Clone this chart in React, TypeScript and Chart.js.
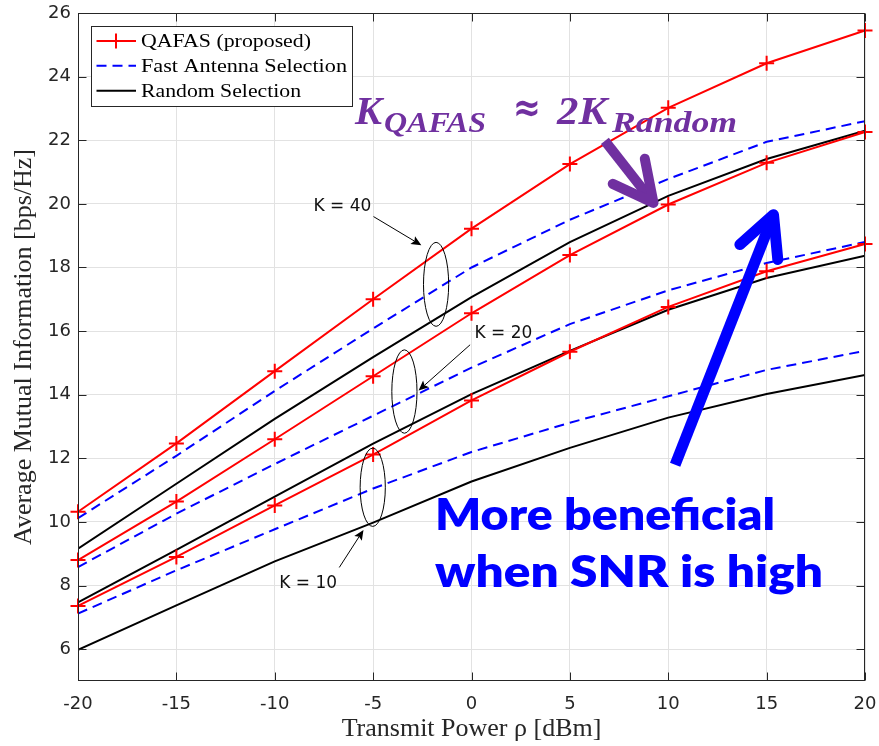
import React, { useEffect, useRef } from 'react';
import { Chart, registerables } from 'chart.js';

Chart.register(...registerables);

// ---------- data ----------
const powerDbm = [-20, -15, -10, -5, 0, 5, 10, 15, 20];

const qafasK40 = [10.32, 12.47, 14.74, 17.0, 19.22, 21.25, 23.02, 24.42, 25.45];
const fastK40 = [10.12, 12.08, 14.12, 16.08, 18.0, 19.5, 20.78, 21.95, 22.6];
const randomK40 = [9.16, 11.2, 13.24, 15.18, 17.07, 18.8, 20.25, 21.41, 22.3];

const qafasK20 = [8.8, 10.64, 12.6, 14.58, 16.56, 18.39, 19.98, 21.29, 22.26];
const fastK20 = [8.58, 10.26, 11.82, 13.34, 14.85, 16.22, 17.28, 18.14, 18.8];
const randomK20 = [7.47, 9.12, 10.8, 12.46, 14.02, 15.38, 16.67, 17.67, 18.37];

const qafasK10 = [7.36, 8.9, 10.52, 12.12, 13.82, 15.35, 16.76, 17.88, 18.74];
const fastK10 = [7.12, 8.48, 9.77, 11.05, 12.2, 13.12, 13.95, 14.78, 15.38];
const randomK10 = [5.98, 7.38, 8.76, 9.98, 11.27, 12.33, 13.28, 14.02, 14.62];

const xTicks = [-20, -15, -10, -5, 0, 5, 10, 15, 20];
const yTicks = [6, 8, 10, 12, 14, 16, 18, 20, 22, 24, 26];

const legendLabels = ['QAFAS (proposed)', 'Fast Antenna Selection', 'Random Selection'];
const groupLabels = ['K = 40', 'K = 20', 'K = 10'];
const formulaParts = ['K', 'QAFAS', '\u2248', '2K', 'Random'];
const noteLines = ['More beneficial', 'when SNR is high'];

const xTitle = 'Transmit Power \u03C1 [dBm]';
const yTitle = 'Average Mutual Information [bps/Hz]';

// ---------- styles ----------
const RED = '#ff0000';
const BLUE = '#0000ff';
const BLACK = '#000000';
const PURPLE = '#7030a0';
const AXIS = '#262626';
const GRID = '#e2e2e2';

const toPts = (ys: number[]) => powerDbm.map((x, i) => ({ x, y: ys[i] }));

function fitText(ctx: CanvasRenderingContext2D, text: string, x: number, y: number, font: string, width: number, color: string) {
  ctx.save();
  ctx.font = font;
  const w = ctx.measureText(text).width;
  const s = width / w;
  ctx.translate(x, y);
  ctx.scale(s, 1);
  ctx.fillStyle = color;
  ctx.textAlign = 'left';
  ctx.textBaseline = 'alphabetic';
  ctx.fillText(text, 0, 0);
  ctx.restore();
}

function smallArrow(ctx: CanvasRenderingContext2D, x0: number, y0: number, x1: number, y1: number) {
  const a = Math.atan2(y1 - y0, x1 - x0);
  const L = 11;
  const back = 8;
  const spread = 0.42;
  ctx.save();
  ctx.strokeStyle = BLACK;
  ctx.fillStyle = BLACK;
  ctx.lineWidth = 1;
  ctx.beginPath();
  ctx.moveTo(x0, y0);
  ctx.lineTo(x1 - back * Math.cos(a), y1 - back * Math.sin(a));
  ctx.stroke();
  ctx.beginPath();
  ctx.moveTo(x1, y1);
  ctx.lineTo(x1 - L * Math.cos(a - spread), y1 - L * Math.sin(a - spread));
  ctx.lineTo(x1 - back * Math.cos(a), y1 - back * Math.sin(a));
  ctx.lineTo(x1 - L * Math.cos(a + spread), y1 - L * Math.sin(a + spread));
  ctx.closePath();
  ctx.fill();
  ctx.restore();
}

function bigArrow(ctx: CanvasRenderingContext2D, x0: number, y0: number, x1: number, y1: number, color: string, lw: number, head: number) {
  const a = Math.atan2(y1 - y0, x1 - x0);
  const spread = 0.47;
  ctx.save();
  ctx.strokeStyle = color;
  ctx.lineWidth = lw;
  ctx.lineCap = 'butt';
  ctx.beginPath();
  ctx.moveTo(x0, y0);
  ctx.lineTo(x1 - 4 * Math.cos(a), y1 - 4 * Math.sin(a));
  ctx.stroke();
  ctx.lineCap = 'round';
  ctx.lineJoin = 'round';
  ctx.beginPath();
  ctx.moveTo(x1 - head * Math.cos(a - spread), y1 - head * Math.sin(a - spread));
  ctx.lineTo(x1, y1);
  ctx.lineTo(x1 - head * Math.cos(a + spread), y1 - head * Math.sin(a + spread));
  ctx.stroke();
  ctx.restore();
}

const decorPlugin = {
  id: 'decor',
  afterDatasetsDraw(chart: any) {
    const ctx: CanvasRenderingContext2D = chart.ctx;
    const xs = chart.scales.x;
    const ys = chart.scales.y;
    const px = (v: number) => xs.getPixelForValue(v);
    const py = (v: number) => ys.getPixelForValue(v);
    const { left, right, top, bottom } = chart.chartArea;

    // frame and inward ticks
    ctx.save();
    ctx.strokeStyle = AXIS;
    ctx.lineWidth = 1;
    const L = Math.round(left) + 0.5, R = Math.round(right) - 0.5;
    const T = Math.round(top) + 0.5, B = Math.round(bottom) - 0.5;
    ctx.strokeRect(L, T, R - L, B - T);
    ctx.beginPath();
    xTicks.forEach((v) => {
      const x = Math.round(px(v)) + 0.5;
      ctx.moveTo(x, B); ctx.lineTo(x, B - 8);
      ctx.moveTo(x, T); ctx.lineTo(x, T + 8);
    });
    yTicks.forEach((v) => {
      const y = Math.round(py(v)) + 0.5;
      ctx.moveTo(L, y); ctx.lineTo(L + 8, y);
      ctx.moveTo(R, y); ctx.lineTo(R - 8, y);
    });
    ctx.stroke();
    ctx.restore();

    // group ellipses
    const ellipses = [
      { cx: -1.8, cy: 17.47, rx: 0.64, ry: 1.32 },
      { cx: -3.41, cy: 14.1, rx: 0.64, ry: 1.31 },
      { cx: -5.02, cy: 11.09, rx: 0.64, ry: 1.23 },
    ];
    ctx.save();
    ctx.strokeStyle = BLACK;
    ctx.lineWidth = 1;
    ellipses.forEach((e) => {
      const cx = px(e.cx), cy = py(e.cy);
      const rx = Math.abs(px(e.cx + e.rx) - cx);
      const ry = Math.abs(py(e.cy + e.ry) - cy);
      ctx.beginPath();
      ctx.ellipse(cx, cy, rx, ry, 0, 0, Math.PI * 2);
      ctx.stroke();
    });
    ctx.restore();

    // group labels + thin arrows
    const groupAnn = [
      { tx: -8.03, ty: 19.76, ax: -4.98, ay: 19.6, bx: -2.55, by: 18.7 },
      { tx: 0.15, ty: 15.78, ax: -0.07, ay: 15.57, bx: -2.69, by: 14.13 },
      { tx: -9.77, ty: 7.92, ax: -6.72, ay: 8.57, bx: -5.49, by: 9.75 },
    ];
    ctx.save();
    ctx.font = '17px "DejaVu Sans"';
    ctx.fillStyle = '#111111';
    ctx.textAlign = 'left';
    ctx.textBaseline = 'alphabetic';
    groupAnn.forEach((g, i) => {
      ctx.fillText(groupLabels[i], px(g.tx), py(g.ty));
      smallArrow(ctx, px(g.ax), py(g.ay), px(g.bx), py(g.by));
    });
    ctx.restore();

    // purple formula
    const mainFont = 'italic bold 40px "Liberation Serif"';
    const subFont = 'italic bold 29px "Liberation Serif"';
    fitText(ctx, formulaParts[0], 355, 123.5, mainFont, 27, PURPLE);
    fitText(ctx, formulaParts[1], 384, 131.5, subFont, 102, PURPLE);
    fitText(ctx, formulaParts[2], 513, 121, 'bold 40px "DejaVu Serif"', 28, PURPLE);
    fitText(ctx, formulaParts[3], 557, 123.5, mainFont, 50, PURPLE);
    fitText(ctx, formulaParts[4], 612, 131.5, subFont, 125, PURPLE);

    // purple arrow
    bigArrow(ctx, px(6.78), py(21.98), px(9.25), py(20.03), PURPLE, 10, 45);

    // blue arrow
    bigArrow(ctx, px(10.35), py(11.8), px(15.35), py(19.66), BLUE, 11, 45);

    // blue note
    fitText(ctx, noteLines[0], 435, 530, '800 44px Lato', 340, BLUE);
    fitText(ctx, noteLines[1], 435, 586.5, '800 44px Lato', 388, BLUE);

    // legend
    ctx.save();
    ctx.fillStyle = '#ffffff';
    ctx.fillRect(91.5, 26.5, 261, 80);
    ctx.strokeStyle = AXIS;
    ctx.lineWidth = 1;
    ctx.strokeRect(91.5, 26.5, 261, 80);
    const rows = [
      { y: 41, color: RED, dash: [] as number[], marker: true, w: 170 },
      { y: 65.7, color: BLUE, dash: [10, 6], marker: false, w: 206 },
      { y: 90.7, color: BLACK, dash: [] as number[], marker: false, w: 160 },
    ];
    rows.forEach((r, i) => {
      ctx.save();
      ctx.strokeStyle = r.color;
      ctx.lineWidth = 2;
      ctx.setLineDash(r.dash);
      ctx.beginPath();
      ctx.moveTo(96.5, r.y);
      ctx.lineTo(136, r.y);
      ctx.stroke();
      ctx.setLineDash([]);
      if (r.marker) {
        ctx.beginPath();
        ctx.moveTo(116 - 7.5, r.y); ctx.lineTo(116 + 7.5, r.y);
        ctx.moveTo(116, r.y - 7.5); ctx.lineTo(116, r.y + 7.5);
        ctx.stroke();
      }
      ctx.restore();
      fitText(ctx, legendLabels[i], 141, r.y + 6, '19px "Liberation Serif"', r.w, BLACK);
    });
    ctx.restore();
  },
};

export default function App() {
  const ref = useRef<HTMLCanvasElement | null>(null);

  useEffect(() => {
    if (!ref.current) return;
    const qafasStyle = {
      borderColor: RED,
      backgroundColor: RED,
      borderWidth: 2,
      pointStyle: 'cross',
      pointRadius: 7.5,
      pointBorderWidth: 2,
      pointBorderColor: RED,
      tension: 0,
      clip: false as any,
      order: 0,
    };
    const fastStyle = {
      borderColor: BLUE,
      backgroundColor: BLUE,
      borderWidth: 2,
      borderDash: [10, 6],
      pointRadius: 0,
      tension: 0,
      order: 2,
    };
    const randomStyle = {
      borderColor: BLACK,
      backgroundColor: BLACK,
      borderWidth: 2,
      pointRadius: 0,
      tension: 0,
      order: 1,
    };
    const chart = new Chart(ref.current, {
      type: 'line',
      data: {
        datasets: [
          { label: legendLabels[0] + ' K=40', data: toPts(qafasK40), ...qafasStyle },
          { label: legendLabels[1] + ' K=40', data: toPts(fastK40), ...fastStyle },
          { label: legendLabels[2] + ' K=40', data: toPts(randomK40), ...randomStyle },
          { label: legendLabels[0] + ' K=20', data: toPts(qafasK20), ...qafasStyle },
          { label: legendLabels[1] + ' K=20', data: toPts(fastK20), ...fastStyle },
          { label: legendLabels[2] + ' K=20', data: toPts(randomK20), ...randomStyle },
          { label: legendLabels[0] + ' K=10', data: toPts(qafasK10), ...qafasStyle },
          { label: legendLabels[1] + ' K=10', data: toPts(fastK10), ...fastStyle },
          { label: legendLabels[2] + ' K=10', data: toPts(randomK10), ...randomStyle },
        ] as any,
      },
      options: {
        animation: false,
        responsive: false,
        devicePixelRatio: 1,
        layout: { padding: { top: 13, right: 14, left: 0, bottom: 0 } },
        plugins: {
          legend: { display: false },
          tooltip: { enabled: false },
          title: { display: false },
        },
        scales: {
          x: {
            type: 'linear',
            min: -20,
            max: 20,
            afterBuildTicks: (s: any) => { s.ticks = xTicks.map((v) => ({ value: v })); },
            afterFit: (s: any) => { s.height = 65; s.paddingLeft = 0; s.paddingRight = 0; },
            grid: { color: GRID, drawTicks: false, lineWidth: 1 },
            border: { display: false },
            ticks: {
              color: AXIS,
              padding: 13,
              font: { family: '"DejaVu Sans"', size: 18 },
              maxRotation: 0,
              callback: (v: any) => String(v),
            },
            title: {
              display: true,
              text: xTitle,
              color: AXIS,
              font: { family: '"Liberation Serif"', size: 26 },
              padding: { top: 0, bottom: 1 },
            },
          },
          y: {
            type: 'linear',
            min: 5,
            max: 26,
            afterBuildTicks: (s: any) => { s.ticks = yTicks.map((v) => ({ value: v })); },
            afterFit: (s: any) => { s.width = 78; s.paddingTop = 0; s.paddingBottom = 0; },
            grid: { color: GRID, drawTicks: false, lineWidth: 1 },
            border: { display: false },
            ticks: {
              color: AXIS,
              padding: 7,
              font: { family: '"DejaVu Sans"', size: 18 },
              callback: (v: any) => String(v),
            },
            title: {
              display: true,
              text: yTitle,
              color: AXIS,
              font: { family: '"Liberation Serif"', size: 26 },
              padding: { top: 9, bottom: 0 },
            },
          },
        },
      } as any,
      plugins: [decorPlugin],
    });
    return () => chart.destroy();
  }, []);

  return (
    <div style={{ position: 'absolute', left: 0, top: 0, width: 879, height: 746, background: '#ffffff' }}>
      <canvas ref={ref} width={879} height={746} style={{ display: 'block', width: 879, height: 746 }} />
    </div>
  );
}
